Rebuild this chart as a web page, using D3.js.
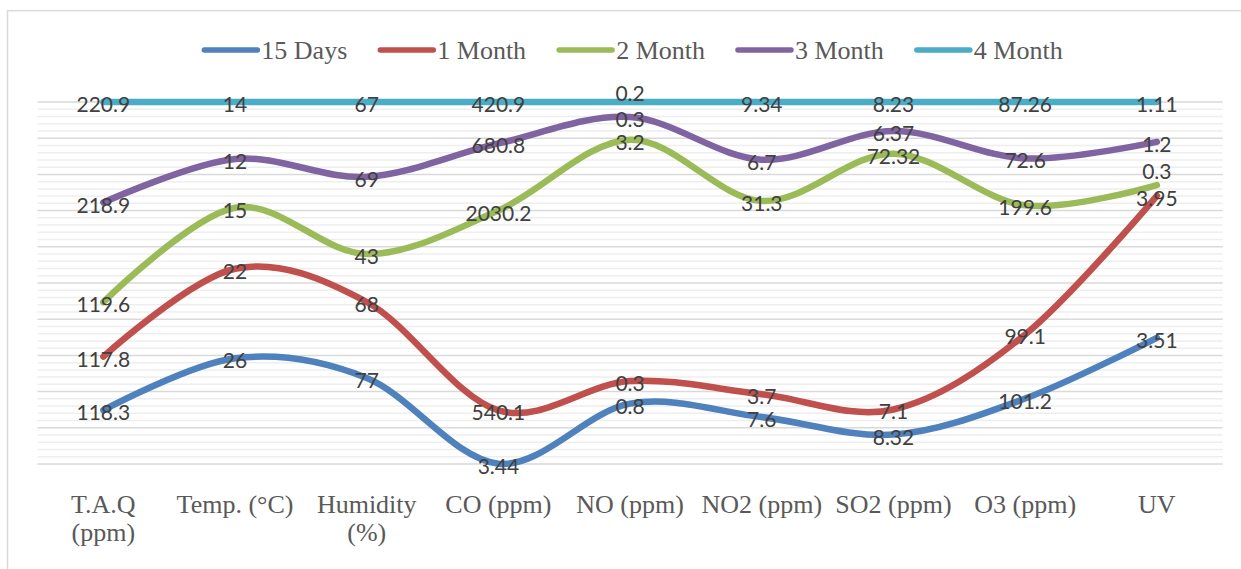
<!DOCTYPE html>
<html>
<head>
<meta charset="utf-8">
<script src="https://cdn.jsdelivr.net/npm/d3@7/dist/d3.min.js"></script>
<style>
  html, body { margin: 0; padding: 0; background: #ffffff; }
  svg { display: block; }
</style>
</head>
<body>
<svg id="chart" width="1241" height="569"></svg>
<script>
// ---------- data ----------
const categories = ["T.A.Q (ppm)", "Temp. (°C)", "Humidity (%)", "CO (ppm)", "NO (ppm)", "NO2 (ppm)", "SO2 (ppm)", "O3 (ppm)", "UV"];
const seriesNames = ["15 Days", "1 Month", "2 Month", "3 Month", "4 Month"];
const days15  = [118.3, 26, 77, 3.44, 0.8, 7.6, 8.32, 101.2, 3.51];
const month1  = [117.8, 22, 68, 540.1, 0.3, 3.7, 7.1, 99.1, 3.95];
const month2  = [119.6, 15, 43, 2030.2, 3.2, 31.3, 72.32, 199.6, 0.3];
const month3  = [218.9, 12, 69, 680.8, 0.3, 6.7, 6.37, 72.6, 1.2];
const month4  = [220.9, 14, 67, 420.9, 0.2, 9.34, 8.23, 87.26, 1.11];
const seriesValues = [days15, month1, month2, month3, month4];
const colors = ["#4f81bd", "#c0504d", "#9bbb59", "#8064a2", "#4bacc6"];

// table for d3.stack (100% stacked line)
const table = categories.map((c, i) => {
  const row = { category: c };
  seriesNames.forEach((s, j) => row[s] = seriesValues[j][i]);
  return row;
});
const stacked = d3.stack().keys(seriesNames).offset(d3.stackOffsetExpand)(table);

// ---------- layout ----------
const svg = d3.select("#chart");
const plot = { left: 37.5, right: 1222.7, top: 102, bottom: 464 };

svg.append("rect")
  .attr("x", 7.5).attr("y", 10.7)
  .attr("width", 1300).attr("height", 600)
  .attr("fill", "#ffffff")
  .attr("stroke", "#d9d9d9").attr("stroke-width", 1.5);

const x = d3.scaleBand().domain(categories).range([plot.left, plot.right]).padding(0);
const cx = c => x(c) + x.bandwidth() / 2;
const y = d3.scaleLinear().domain([0, 1]).range([plot.bottom, plot.top]);

// gridlines: minor every 2%, major every 10%
const minorTicks = d3.range(0, 1.0001, 0.02).filter(t => Math.round(t * 100) % 10 !== 0);
const majorTicks = d3.range(0, 1.0001, 0.1);
const grid = svg.append("g");
grid.selectAll("line.minor").data(minorTicks).join("line")
  .attr("class", "minor")
  .attr("x1", plot.left).attr("x2", plot.right)
  .attr("y1", d => y(d)).attr("y2", d => y(d))
  .attr("stroke", "#eeeeee").attr("stroke-width", 1.5);
grid.selectAll("line.major").data(majorTicks).join("line")
  .attr("class", "major")
  .attr("x1", plot.left).attr("x2", plot.right)
  .attr("y1", d => y(d)).attr("y2", d => y(d))
  .attr("stroke", "#d9d9d9").attr("stroke-width", 1.5);

// x axis (category labels)
const xAxis = svg.append("g")
  .attr("transform", `translate(0,${plot.bottom})`)
  .call(d3.axisBottom(x).tickSize(0));
xAxis.select(".domain").remove();
xAxis.selectAll("text")
  .attr("y", 49).attr("dy", 0)
  .attr("fill", "#595959")
  .style("font-family", "'Liberation Serif', 'Times New Roman', serif")
  .style("font-size", "26px")
  .each(function () { wrap(d3.select(this), x.bandwidth() - 6); });

function wrap(text, width) {
  const words = text.text().split(/\s+/);
  text.text(null);
  let line = [];
  let lineNo = 0;
  let tspan = text.append("tspan").attr("x", 0).attr("y", 49);
  words.forEach(w => {
    line.push(w);
    tspan.text(line.join(" "));
    if (tspan.node().getComputedTextLength() > width && line.length > 1) {
      line.pop();
      tspan.text(line.join(" "));
      line = [w];
      lineNo++;
      tspan = text.append("tspan").attr("x", 0).attr("y", 49 + lineNo * 27.5).text(w);
    }
  });
}

// lines
const lineGen = d3.line()
  .x(d => cx(d.data.category))
  .y(d => y(d[1]))
  .curve(d3.curveCatmullRom.alpha(0));

svg.append("g").selectAll("path").data(stacked).join("path")
  .attr("d", lineGen)
  .attr("fill", "none")
  .attr("stroke", (d, i) => colors[i])
  .attr("stroke-width", 6.5)
  .attr("stroke-linecap", "round")
  .attr("stroke-linejoin", "round");

// data labels with simple vertical collision avoidance
const labels = [];
categories.forEach((c, ci) => {
  const col = stacked.map((s, si) => ({
    x: cx(c),
    y: y(s[ci][1]) + 1.5,
    text: String(seriesValues[si][ci])
  }));
  // col ordered bottom series first (largest y)
  for (let k = 1; k < col.length; k++) {
    if (col[k - 1].y - col[k].y < 16) col[k].y = col[k - 1].y - 26.5;
  }
  labels.push(...col);
});

svg.append("g").selectAll("text").data(labels).join("text")
  .attr("x", d => d.x)
  .attr("y", d => d.y)
  .attr("text-anchor", "middle")
  .attr("dominant-baseline", "central")
  .attr("fill", "#404040")
  .style("font-family", "Lato, 'Open Sans', sans-serif")
  .style("font-size", "21px")
  .text(d => d.text);

// legend
const legend = svg.append("g");
const items = legend.selectAll("g").data(seriesNames).join("g");
items.append("line")
  .attr("x1", 0).attr("x2", 53)
  .attr("y1", 50).attr("y2", 50)
  .attr("stroke", (d, i) => colors[i])
  .attr("stroke-width", 5.5)
  .attr("stroke-linecap", "round");
items.append("text")
  .attr("x", 57).attr("y", 59)
  .attr("fill", "#595959")
  .style("font-family", "'Liberation Serif', 'Times New Roman', serif")
  .style("font-size", "26px")
  .text(d => d);
const widths = [];
items.each(function () {
  const w = 57 + d3.select(this).select("text").node().getComputedTextLength();
  widths.push(w);
});
const gap = 33;
const total = d3.sum(widths) + gap * (widths.length - 1);
let start = 633.5 - total / 2;
items.attr("transform", (d, i) => {
  const t = `translate(${start},0)`;
  start += widths[i] + gap;
  return t;
});
</script>
</body>
</html>
